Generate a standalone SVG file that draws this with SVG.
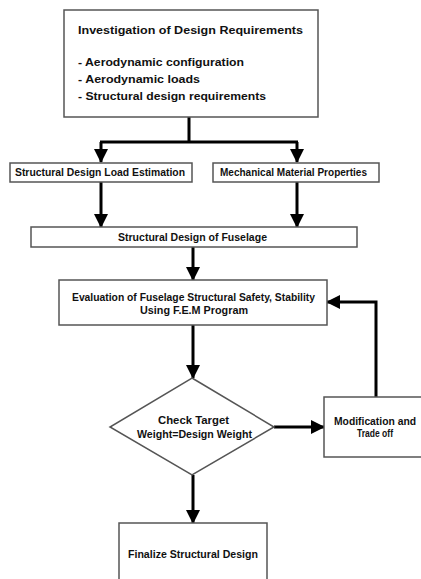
<svg xmlns="http://www.w3.org/2000/svg" width="421" height="579" viewBox="0 0 421 579">
<defs>
<style>
.box{fill:#fff;stroke:#555;stroke-width:1.5}
.t{font-family:"Liberation Sans",Arial,sans-serif;font-weight:bold;font-size:10px;fill:#111}
.c{text-anchor:middle}
.ln{fill:none;stroke:#000;stroke-width:3}
</style>
<marker id="ah" markerUnits="userSpaceOnUse" markerWidth="14" markerHeight="14" viewBox="0 0 14 14" refX="13" refY="7" orient="auto">
<path d="M0,0 L14,7 L0,14 Z" fill="#000"/>
</marker>
</defs>
<rect width="421" height="579" fill="#fff"/>
<g id="connectors">
<path class="ln" d="M189,117 V142 M100,142 H298"/>
<path class="ln" d="M101,142 V162" marker-end="url(#ah)"/>
<path class="ln" d="M297,142 V162" marker-end="url(#ah)"/>
<path class="ln" d="M101,182 V227" marker-end="url(#ah)"/>
<path class="ln" d="M297,182 V227" marker-end="url(#ah)"/>
<path class="ln" d="M193,247 V280" marker-end="url(#ah)"/>
<path class="ln" d="M193,325 V378" marker-end="url(#ah)"/>
<path class="ln" d="M274,427 H324" marker-end="url(#ah)"/>
<path class="ln" d="M376,397 V302 H327" marker-end="url(#ah)"/>
<path class="ln" d="M193,475 V523" marker-end="url(#ah)"/>
</g>
<g id="requirements">
<rect class="box" x="64" y="10" width="254" height="107"/>
<text class="t" x="78" y="34" font-size="12" textLength="225" lengthAdjust="spacingAndGlyphs">Investigation of Design Requirements</text>
<text class="t" x="78" y="66" font-size="11" textLength="166" lengthAdjust="spacingAndGlyphs">- Aerodynamic configuration</text>
<text class="t" x="78" y="83" font-size="11" textLength="122" lengthAdjust="spacingAndGlyphs">- Aerodynamic loads</text>
<text class="t" x="78" y="100" font-size="11" textLength="188" lengthAdjust="spacingAndGlyphs">- Structural design requirements</text>
</g>
<g id="load-estimation">
<rect class="box" x="10" y="163" width="182" height="19"/>
<text class="t" x="15" y="175.5" textLength="170" lengthAdjust="spacingAndGlyphs">Structural Design Load Estimation</text>
</g>
<g id="material">
<rect class="box" x="213" y="163" width="166" height="19"/>
<text class="t" x="220" y="175.5" textLength="147" lengthAdjust="spacingAndGlyphs">Mechanical Material Properties</text>
</g>
<g id="fuselage">
<rect class="box" x="31" y="227" width="326" height="20"/>
<text class="t" x="118" y="241" textLength="149" lengthAdjust="spacingAndGlyphs">Structural Design of Fuselage</text>
</g>
<g id="evaluation">
<rect class="box" x="59" y="280" width="268" height="45"/>
<text class="t" x="72" y="300.5" textLength="243" lengthAdjust="spacingAndGlyphs">Evaluation of Fuselage Structural Safety, Stability</text>
<text class="t" x="140" y="313.5" textLength="108" lengthAdjust="spacingAndGlyphs">Using F.E.M Program</text>
</g>
<g id="check">
<path class="box" d="M192,378 L274,427 L192,475 L110,427 Z"/>
<text class="t" x="158" y="423.5" textLength="71" lengthAdjust="spacingAndGlyphs">Check Target</text>
<text class="t" x="137" y="437.5" textLength="115" lengthAdjust="spacingAndGlyphs">Weight=Design Weight</text>
</g>
<g id="modification">
<rect class="box" x="324" y="397" width="104" height="60"/>
<text class="t" x="334" y="424.5" textLength="82" lengthAdjust="spacingAndGlyphs">Modification and</text>
<text class="t" x="357" y="436.5" textLength="36" lengthAdjust="spacingAndGlyphs">Trade off</text>
</g>
<g id="finalize">
<rect class="box" x="119" y="523" width="148" height="70"/>
<text class="t" x="128" y="557.5" textLength="130" lengthAdjust="spacingAndGlyphs">Finalize Structural Design</text>
</g>
</svg>
